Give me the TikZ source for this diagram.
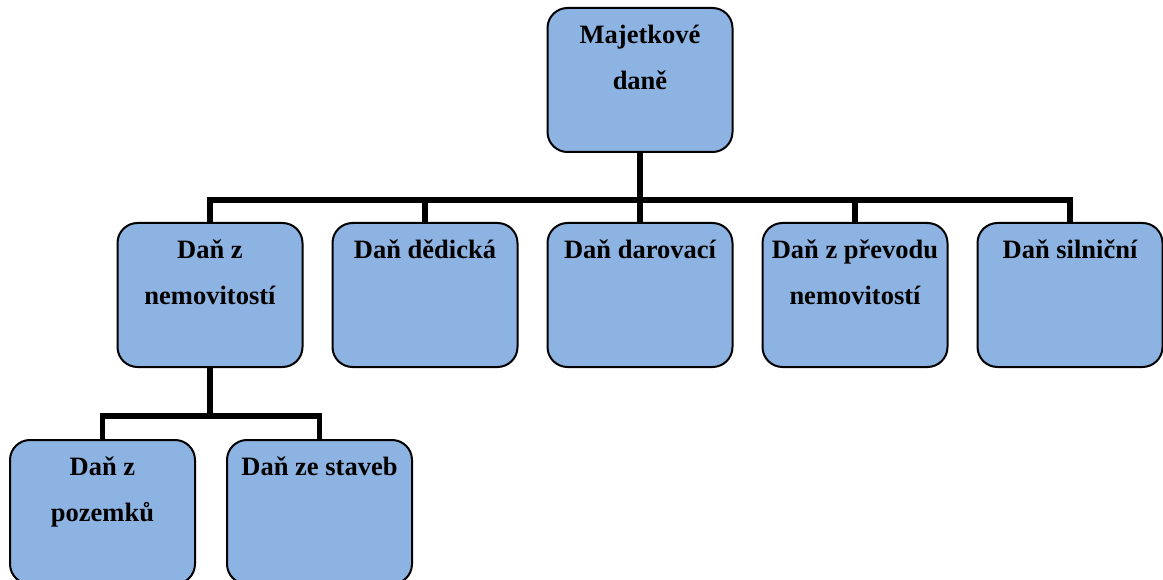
\documentclass[tikz,border=0pt]{standalone}
\usepackage{fontspec}
\setmainfont{Liberation Serif}
\usepackage{xcolor}
\usetikzlibrary{positioning,calc}

\definecolor{boxblue}{RGB}{141,179,226}

\begin{document}
\begin{tikzpicture}[
  x=1pt, y=-1pt,
  box/.style={draw, line width=2pt, rounded corners=20pt, fill=boxblue,
    minimum width=185pt, minimum height=144pt, inner sep=0pt, outer sep=0pt},
  lbl/.style={align=center, inner sep=0pt,
    font=\fontsize{26.5}{46}\selectfont\bfseries},
  conn/.style={line width=5.5pt}
]
  \useasboundingbox (0,0) rectangle (1163,580);

  % second row
  \node[box] (nemov) at (210,295) {};
  \node[box, right=30pt of nemov] (dedic) {};
  \node[box, right=30pt of dedic] (darov) {};
  \node[box, right=30pt of darov] (prevod) {};
  \node[box, right=30pt of prevod] (silnic) {};
  % top and bottom rows
  \node[box, above=71pt of darov] (majet) {};
  \node[box] (pozem) at (102.5,512) {};
  \node[box, right=32pt of pozem] (stavby) {};

  % connectors
  \foreach \n in {nemov,dedic,darov,prevod,silnic}
    \draw[conn] (majet.south) -- +(0,48) -| (\n.north);
  \foreach \n in {pozem,stavby}
    \draw[conn] (nemov.south) -- +(0,49) -| (\n.north);

  % texts (the strut fixes the top of the first line)
  \newcommand{\topline}{\rule{0pt}{20pt}}
  \node[lbl, below=15pt of majet.north] (tmajet) {\topline Majetkové\\daně};
  \node[lbl, below=15pt of nemov.north] (tnemov) {\topline Daň z\\nemovitostí};
  \node[lbl, below=15pt of dedic.north] (tdedic) {\topline Daň dědická};
  \node[lbl, below=15pt of darov.north] (tdarov) {\topline Daň darovací};
  \node[lbl, below=15pt of prevod.north] (tprevod) {\topline Daň z převodu\\nemovitostí};
  \node[lbl, below=15pt of silnic.north] (tsilnic) {\topline Daň silniční};
  \node[lbl, below=15pt of pozem.north] (tpozem) {\topline Daň z\\pozemků};
  \node[lbl, below=15pt of stavby.north] (tstavby) {\topline Daň ze staveb};
\end{tikzpicture}
\end{document}
